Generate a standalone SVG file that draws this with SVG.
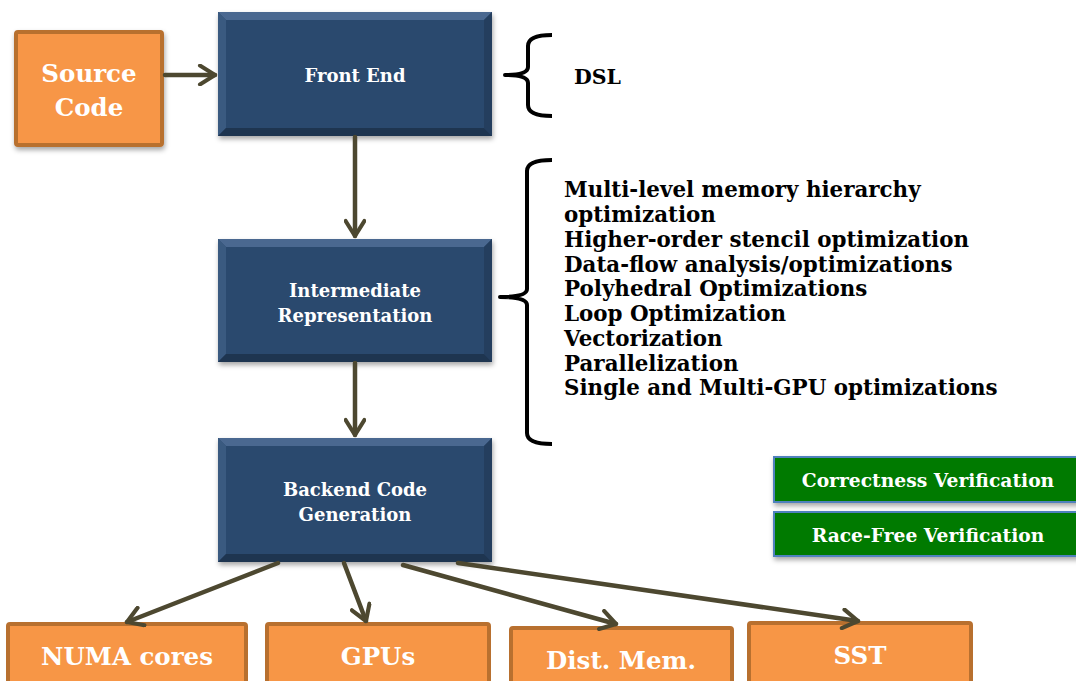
<svg xmlns="http://www.w3.org/2000/svg" width="1076" height="681" viewBox="0 0 1076 681">
<style>
.orange{fill:#F79646;stroke:#B8702F;stroke-width:4}
.blue{fill:#2C4A6E}
.green{fill:#007A00;stroke:#4F81BD;stroke-width:2}
.wt{fill:#fff;font-family:"DejaVu Serif",serif;font-weight:bold;text-anchor:middle}
.bt{fill:#000;font-family:"DejaVu Serif",serif;font-weight:bold}
.conn{stroke:#4D4830;stroke-width:4.5;fill:none;stroke-linecap:round}
.brace{stroke:#000;stroke-width:4;fill:none;stroke-linejoin:round}
</style>
<defs>
<marker id="ah" viewBox="0 0 12 12" refX="10" refY="6" markerWidth="5" markerHeight="5" orient="auto" markerUnits="strokeWidth">
<path d="M2,1 L10,6 L2,11" fill="none" stroke="#4D4830" stroke-width="2.2" stroke-linecap="round" stroke-linejoin="round"/>
</marker>
<filter id="sh" x="-10%" y="-10%" width="130%" height="140%">
<feDropShadow dx="1" dy="3" stdDeviation="2.5" flood-color="#000" flood-opacity="0.35"/>
</filter>
</defs>
<rect width="1076" height="681" fill="#fff"/>

<g id="source-code">
<rect class="orange" x="16" y="32" width="146" height="113" rx="2" filter="url(#sh)"/>
<text class="wt" x="89" y="82" font-size="24.5">Source</text>
<text class="wt" x="89" y="116" font-size="24.5">Code</text>
</g>

<g id="front-end">
<rect class="blue" x="218" y="12" width="274" height="124" filter="url(#sh)"/>
<polygon points="218,12 492,12 484,20 226,20" fill="#4A6890"/>
<polygon points="218,12 226,20 226,128 218,136" fill="#3A5A80"/>
<polygon points="492,12 492,136 484,128 484,20" fill="#243E5E"/>
<polygon points="218,136 226,128 484,128 492,136" fill="#1E3550"/>
<text class="wt" x="355" y="82" font-size="18">Front End</text>
</g>

<g id="intermediate-representation">
<rect class="blue" x="218" y="239" width="274" height="123" filter="url(#sh)"/>
<polygon points="218,239 492,239 484,247 226,247" fill="#4A6890"/>
<polygon points="218,239 226,247 226,354 218,362" fill="#3A5A80"/>
<polygon points="492,239 492,362 484,354 484,247" fill="#243E5E"/>
<polygon points="218,362 226,354 484,354 492,362" fill="#1E3550"/>
<text class="wt" x="355" y="297" font-size="18">Intermediate</text>
<text class="wt" x="355" y="322" font-size="18">Representation</text>
</g>

<g id="backend-code-generation">
<rect class="blue" x="218" y="438" width="274" height="124" filter="url(#sh)"/>
<polygon points="218,438 492,438 484,446 226,446" fill="#4A6890"/>
<polygon points="218,438 226,446 226,554 218,562" fill="#3A5A80"/>
<polygon points="492,438 492,562 484,554 484,446" fill="#243E5E"/>
<polygon points="218,562 226,554 484,554 492,562" fill="#1E3550"/>
<text class="wt" x="355" y="496" font-size="18">Backend Code</text>
<text class="wt" x="355" y="521" font-size="18">Generation</text>
</g>

<g id="dsl-brace">
<path class="brace" d="M552,35 Q528,35 528,46 L528,67 Q528,75 505,75 Q528,75 528,83 L528,105 Q528,116 552,116"/>
<text class="bt" x="574" y="84" font-size="20.5">DSL</text>
</g>

<g id="optimizations-brace">
<path class="brace" d="M552,160 Q527,160 527,171 L527,289 Q527,297 500,297 Q527,297 527,305 L527,433 Q527,444 552,444"/>
<g class="bt" font-size="21.4">
<text x="564" y="197">Multi-level memory hierarchy</text>
<text x="564" y="222">optimization</text>
<text x="564" y="247">Higher-order stencil optimization</text>
<text x="564" y="272">Data-flow analysis/optimizations</text>
<text x="564" y="296">Polyhedral Optimizations</text>
<text x="564" y="321">Loop Optimization</text>
<text x="564" y="346">Vectorization</text>
<text x="564" y="371">Parallelization</text>
<text x="564" y="395">Single and Multi-GPU optimizations</text>
</g>
</g>

<g id="correctness-verification">
<rect class="green" x="774" y="457" width="304" height="45" filter="url(#sh)"/>
<text class="wt" x="928" y="487" font-size="18.7">Correctness Verification</text>
</g>
<g id="race-free-verification">
<rect class="green" x="774" y="512" width="304" height="44" filter="url(#sh)"/>
<text class="wt" x="928" y="542" font-size="18.7">Race-Free Verification</text>
</g>

<g id="numa-cores">
<rect class="orange" x="8" y="624" width="238" height="62" rx="2"/>
<text class="wt" x="127" y="665" font-size="24.5">NUMA cores</text>
</g>
<g id="gpus">
<rect class="orange" x="267" y="624" width="222" height="62" rx="2"/>
<text class="wt" x="378" y="665" font-size="24.5">GPUs</text>
</g>
<g id="dist-mem">
<rect class="orange" x="511" y="628" width="221" height="60" rx="2"/>
<text class="wt" x="621" y="669" font-size="24.5">Dist. Mem.</text>
</g>
<g id="sst">
<rect class="orange" x="749" y="623" width="222" height="62" rx="2"/>
<text class="wt" x="860" y="664" font-size="24.5">SST</text>
</g>

<g id="connectors">
<line class="conn" x1="165" y1="75" x2="215" y2="75" marker-end="url(#ah)"/>
<line class="conn" x1="355" y1="137" x2="355" y2="236" marker-end="url(#ah)"/>
<line class="conn" x1="355" y1="363" x2="355" y2="435" marker-end="url(#ah)"/>
<line class="conn" x1="278" y1="563" x2="127" y2="622" marker-end="url(#ah)"/>
<line class="conn" x1="344" y1="563" x2="366" y2="621" marker-end="url(#ah)"/>
<line class="conn" x1="403" y1="565" x2="616" y2="624" marker-end="url(#ah)"/>
<line class="conn" x1="458" y1="563" x2="858" y2="621" marker-end="url(#ah)"/>
</g>
</svg>
